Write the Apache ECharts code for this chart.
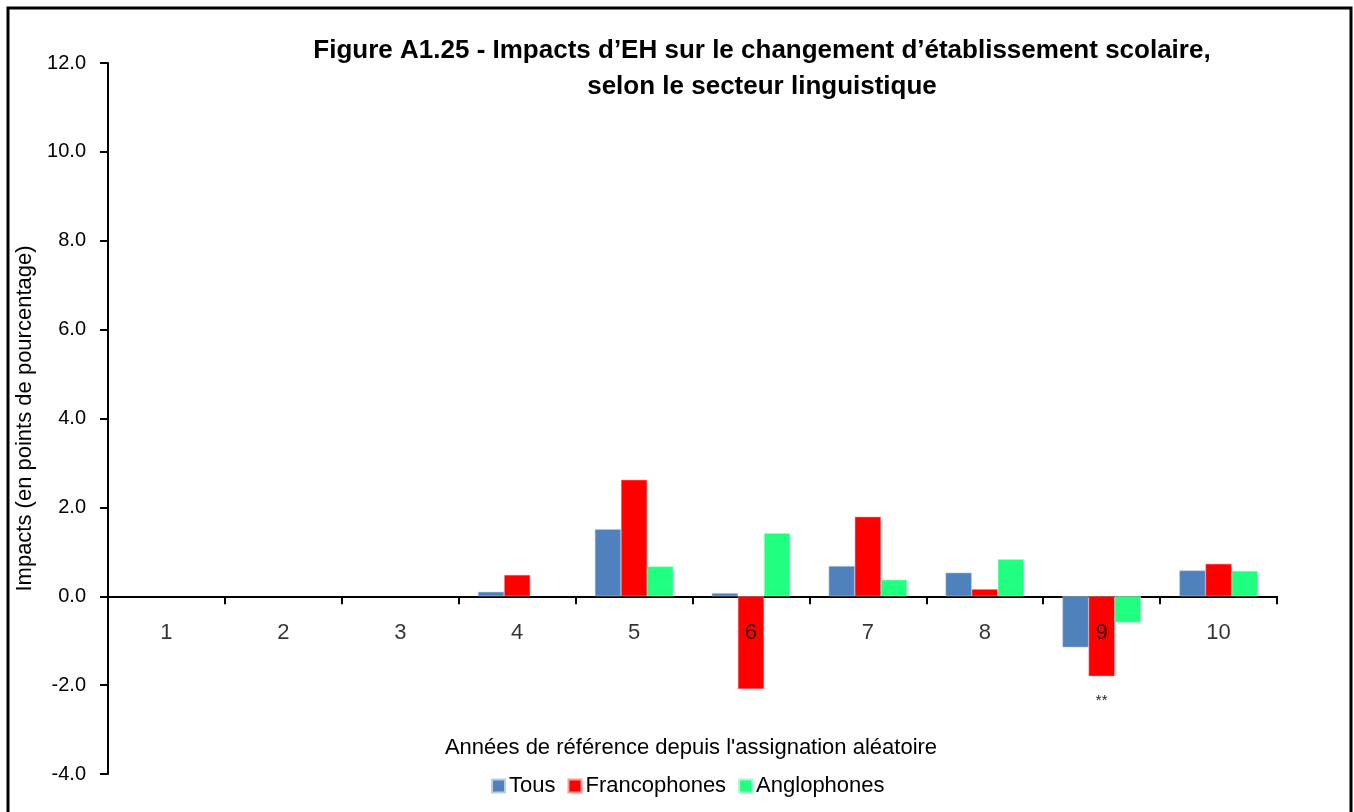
<!DOCTYPE html>
<html>
<head>
<meta charset="UTF-8">
<title>Figure A1.25</title>
<script type="text/javascript" src="https://cdn.jsdelivr.net/npm/echarts@6/dist/echarts.min.js"></script>
</head>
<body style="margin:0">
	<div id="div1" style="width:1354px;height:812px"></div>
	<script type="text/javascript">
	var years = ['1', '2', '3', '4', '5', '6', '7', '8', '9', '10'];
	var tous = [null, null, null, 0.10, 1.51, 0.07, 0.68, 0.53, -1.15, 0.58];
	var francophones = [null, null, null, 0.48, 2.62, -2.09, 1.79, 0.16, -1.80, 0.73];
	var anglophones = [null, null, null, null, 0.67, 1.42, 0.37, 0.83, -0.59, 0.57];
	var signif = ['', '', '', '', '', '', '', '', '**', ''];
	// category labels sit just under the zero line
	var labelLevel = -0.83;

	var font = '"Liberation Sans Narrow", "Arial Narrow", "Liberation Sans", sans-serif';
	var myChart = echarts.init(document.getElementById('div1'));

	var franco = francophones.map(function (v, i) {
		var d = { value: v };
		if (signif[i]) {
			d.label = {
				show: true,
				position: 'bottom',
				distance: 17,
				formatter: signif[i],
				color: '#222',
				fontSize: 15,
				fontFamily: 'Liberation Sans'
			};
		}
		return d;
	});

	var catLabels = years.map(function (y) {
		return [y, labelLevel];
	});

	var option = {
		backgroundColor: '#fff',
		animation: false,
		title: [{
			text: 'Figure A1.25 - Impacts d\u2019EH sur le changement d\u2019\u00e9tablissement scolaire,\nselon le secteur linguistique',
			left: 757,
			top: 28,
			textAlign: 'center',
			textStyle: {
				fontFamily: font,
				fontWeight: 'bold',
				fontSize: 26,
				lineHeight: 36,
				color: '#000'
			}
		}, {
			text: 'Ann\u00e9es de r\u00e9f\u00e9rence depuis l\'assignation al\u00e9atoire',
			left: 686,
			top: 732,
			textAlign: 'center',
			textStyle: {
				fontFamily: font,
				fontWeight: 'normal',
				fontSize: 22,
				color: '#000'
			}
		}],
		legend: {
			data: ['Tous', 'Francophones', 'Anglophones'],
			left: 486,
			top: 770,
			itemWidth: 13,
			itemHeight: 13,
			itemGap: 12,
			icon: 'rect',
			textStyle: {
				fontFamily: font,
				fontSize: 22,
				color: '#000',
				padding: [0, 0, 0, -1]
			}
		},
		grid: {
			left: 108,
			right: 77,
			top: 63,
			bottom: 38,
			outerBoundsMode: 'none'
		},
		xAxis: {
			type: 'category',
			data: years,
			axisLine: { onZero: true, lineStyle: { color: '#000', width: 2 } },
			axisTick: { show: true, length: 8, inside: false, lineStyle: { color: '#000', width: 2 } },
			axisLabel: { show: false }
		},
		yAxis: {
			type: 'value',
			min: -4,
			max: 12,
			interval: 2,
			name: 'Impacts (en points de pourcentage)',
			nameLocation: 'middle',
			nameGap: 57,
			nameTextStyle: {
				fontFamily: font,
				fontSize: 22,
				color: '#000'
			},
			axisLine: { show: true, lineStyle: { color: '#000', width: 2 } },
			axisTick: { show: true, length: 8, lineStyle: { color: '#000', width: 2 } },
			splitLine: { show: false },
			axisLabel: {
				margin: 22,
				fontFamily: 'Liberation Sans',
				fontSize: 20,
				color: '#000',
				formatter: function (v) { return v.toFixed(1); }
			}
		},
		series: [{
			name: 'Tous',
			type: 'bar',
			data: tous,
			barGap: '0%',
			barCategoryGap: '33%',
			itemStyle: { color: '#4F81BD', borderColor: '#B9CDE5', borderWidth: 0.5 }
		}, {
			name: 'Francophones',
			type: 'bar',
			data: franco,
			barGap: '0%',
			barCategoryGap: '33%',
			itemStyle: { color: '#FF0000', borderColor: '#FF9999', borderWidth: 0.5 }
		}, {
			name: 'Anglophones',
			type: 'bar',
			data: anglophones,
			barGap: '0%',
			barCategoryGap: '33%',
			itemStyle: { color: '#21FF80', borderColor: '#A0FFC8', borderWidth: 0.5 }
		}, {
			name: 'categories',
			type: 'scatter',
			data: catLabels,
			symbolSize: 0,
			silent: true,
			z: 5,
			label: {
				show: true,
				position: 'inside',
				formatter: function (p) { return p.value[0]; },
				fontFamily: 'Liberation Sans',
				fontSize: 22,
				color: '#000'
			}
		}],
		graphic: [{
			type: 'rect',
			shape: { x: 8, y: 8, width: 1343, height: 820 },
			style: { fill: null, stroke: '#000', lineWidth: 3 },
			silent: true
		}]
	};
	myChart.setOption(option);
	</script>
</body>
</html>
